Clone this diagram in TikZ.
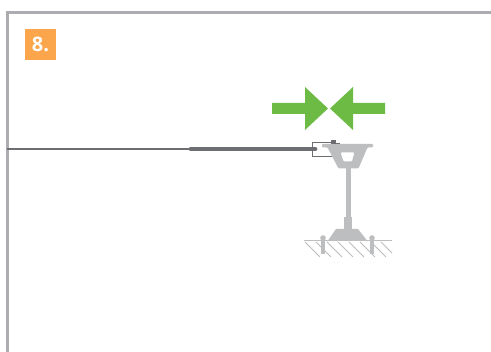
\documentclass[tikz,border=0pt]{standalone}
\usepackage{fontspec}
\setmainfont{Open Sans}
\definecolor{frameg}{HTML}{ABADB0}
\definecolor{orangebox}{HTML}{FBA64C}
\definecolor{greenarrow}{HTML}{6DBB45}
\definecolor{steelg}{HTML}{BCBEC0}
\definecolor{darkg}{HTML}{6D6E71}
\tikzset{
  steelfill/.style={fill=steelg,draw=none},
  greenfill/.style={fill=greenarrow,draw=none},
  hatchline/.style={draw=steelg,line width=0.8pt},
}
\begin{document}
\begin{tikzpicture}[x=1pt,y=-1pt]
\useasboundingbox (0,0) rectangle (491,352);
\fill[white] (0,0) rectangle (491,352);
% frame
\draw[frameg,line width=3pt] (7.7,352) -- (7.7,12.2) -- (491,12.2);
% badge
\node[fill=orangebox,text=white,minimum width=31pt,minimum height=31pt,inner sep=0pt,font=\fontsize{20}{22}\selectfont\bfseries] (badge) at (40.5,44.5) {8.};
% green arrows
\fill[greenfill] (272,103) -- (305,103) -- (305,87) -- (328,108.5) -- (305,130) -- (305,114) -- (272,114) -- cycle;
\fill[greenfill] (385,103) -- (353,103) -- (353,87) -- (330,108.5) -- (353,130) -- (353,114) -- (385,114) -- cycle;
% ground
\begin{scope}
\clip (304,241) rectangle (392,258);
\foreach \s in {305,316,327,338,349,360,371,381}
  \draw[hatchline] (\s,242) -- (\s+15,257);
\end{scope}
\draw[steelg,line width=1pt] (304,241) -- (392,241);
% post and base
\fill[steelfill] (345.8,168) rectangle (351.2,220);
\fill[steelfill] (344,217) rectangle (352,230);
\fill[steelfill] (328,240.5) -- (336,229) -- (358,229) -- (367,240.5) -- cycle;
% bolts
\draw[steelg,line width=3.2pt] (323,238) -- (323,254);
\draw[steelg,line width=3.2pt] (372,238) -- (372,254);
\fill[steelg] (323,238) circle (2.8pt);
\fill[steelg] (372,238) circle (2.8pt);
% bracket
\draw[darkg,line width=1pt] (334,143) -- (312.5,143) -- (312.5,156.5) -- (334,156.5);
% cable
\draw[darkg,line width=1.8pt] (7,149) -- (190,149);
\draw[darkg,line width=4.8pt,line cap=round] (191,149) -- (315,149);
% deck
\fill[steelfill,even odd rule,rounded corners=1pt] (322,144) -- (373,144) -- (373,147.5) -- (367.5,147.5) -- (358.5,168.5) -- (338.5,168.5) -- (327.5,147.5) -- (322,147.5) -- cycle
  (340.5,152.5) -- (354.5,152.5) -- (352,161.5) -- (343.5,161.5) -- cycle;
\fill[darkg] (331,140) rectangle (336,144);
\draw[darkg,line width=1pt] (331,143.4) -- (340,143.4);
\end{tikzpicture}
\end{document}
